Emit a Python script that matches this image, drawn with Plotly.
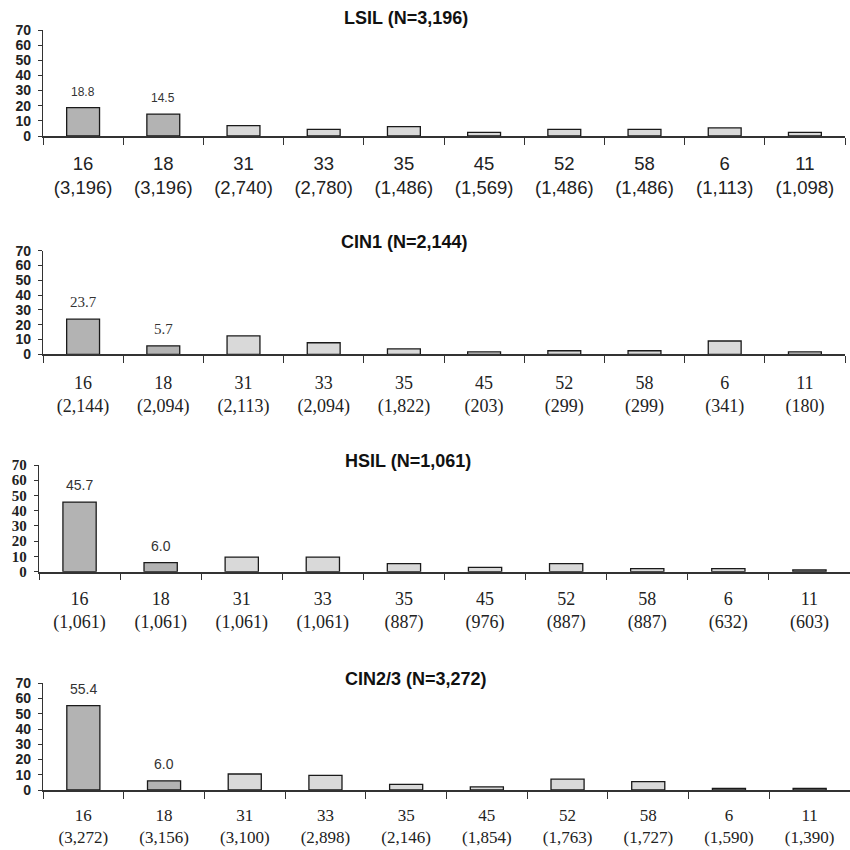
import plotly.graph_objects as go

types = ["16", "18", "31", "33", "35", "45", "52", "58", "6", "11"]

lsil_values = [18.8, 14.5, 6.8, 4.4, 6.2, 2.4, 4.4, 4.4, 5.3, 2.4]
lsil_n = ["3,196", "3,196", "2,740", "2,780", "1,486", "1,569", "1,486", "1,486", "1,113", "1,098"]

cin1_values = [23.7, 5.7, 12.4, 7.8, 3.6, 1.6, 2.4, 2.4, 9.0, 1.6]
cin1_n = ["2,144", "2,094", "2,113", "2,094", "1,822", "203", "299", "299", "341", "180"]

hsil_values = [45.7, 6.0, 9.6, 9.6, 5.3, 2.9, 5.3, 2.0, 2.0, 1.1]
hsil_n = ["1,061", "1,061", "1,061", "1,061", "887", "976", "887", "887", "632", "603"]

cin23_values = [55.4, 6.0, 10.5, 9.6, 3.7, 2.0, 7.2, 5.5, 1.1, 1.1]
cin23_n = ["3,272", "3,156", "3,100", "2,898", "2,146", "1,854", "1,763", "1,727", "1,590", "1,390"]

titles = ["LSIL (N=3,196)", "CIN1 (N=2,144)", "HSIL (N=1,061)", "CIN2/3 (N=3,272)"]
y_ticks = [0, 10, 20, 30, 40, 50, 60, 70]

SANS = "Liberation Sans, Arial, sans-serif"
SERIF = "Liberation Serif, Times New Roman, serif"
H = 850.0

panels = [
    dict(vals=lsil_values, ns=lsil_n, top=30, bot=136, x0=43, x1=845, title_x=406, title_y=18,
         catfont=SANS, catsize=18.5, standoff=10, ytfont=SANS, ytsize=14, valfont=SANS, valsize=12),
    dict(vals=cin1_values, ns=cin1_n, top=250.7, bot=354.3, x0=43, x1=845, title_x=404, title_y=242,
         catfont=SERIF, catsize=18, standoff=11, ytfont=SANS, ytsize=14, valfont=SERIF, valsize=15),
    dict(vals=hsil_values, ns=hsil_n, top=465, bot=571.7, x0=39, x1=850, title_x=408, title_y=461,
         catfont=SERIF, catsize=18, standoff=10, ytfont=SERIF, ytsize=15, valfont=SANS, valsize=14),
    dict(vals=cin23_values, ns=cin23_n, top=683.3, bot=790, x0=43, x1=850, title_x=416, title_y=679,
         catfont=SERIF, catsize=17, standoff=9, ytfont=SANS, ytsize=14, valfont=SANS, valsize=14),
]

DARK = "#b3b3b3"
LIGHT = "#d9d9d9"
EDGE = "#1a1a1a"

fig = go.Figure()
annotations = []
layout = {}

for i, p in enumerate(panels):
    k = "" if i == 0 else str(i + 1)
    cats = [f"{t}<br>({n})" for t, n in zip(types, p["ns"])]
    colors = [DARK if j < 2 else LIGHT for j in range(len(types))]
    fig.add_trace(go.Bar(
        x=cats, y=p["vals"], xaxis="x" + k, yaxis="y" + k,
        marker=dict(color=colors, line=dict(color=EDGE, width=1.3)),
        width=0.41, showlegend=False, hoverinfo="x+y",
    ))
    layout["xaxis" + k] = dict(
        domain=[p["x0"] / H, p["x1"] / H], anchor="y" + k, type="category",
        range=[-0.5, 9.5], showline=True, linecolor="#333", linewidth=1.5,
        ticks="outside", tickson="boundaries", ticklen=7, tickcolor="#333", tickwidth=1.3,
        tickfont=dict(family=p["catfont"], size=p["catsize"], color="#222"),
        ticklabelstandoff=p["standoff"], showgrid=False, zeroline=False, fixedrange=True,
        automargin=False,
    )
    layout["yaxis" + k] = dict(
        domain=[1 - p["bot"] / H, 1 - p["top"] / H], anchor="x" + k,
        range=[0, 70], tickvals=y_ticks, showline=True, linecolor="#333", linewidth=1.3,
        ticks="outside", ticklen=4, tickcolor="#333", ticklabelstandoff=4,
        tickfont=dict(family=p["ytfont"], size=p["ytsize"], color="#222", weight="bold"),
        showgrid=False, zeroline=False, fixedrange=True, automargin=False,
    )
    annotations.append(dict(
        text=f"<b>{titles[i]}</b>", xref="paper", yref="paper",
        x=p["title_x"] / H, y=1 - p["title_y"] / H, xanchor="center", yanchor="middle",
        showarrow=False, font=dict(family=SANS, size=18, color="#111"),
    ))
    for j in range(2):
        v = p["vals"][j]
        annotations.append(dict(
            text=f"{v:.1f}", xref="x" + k, yref="y" + k, x=cats[j], y=v,
            xanchor="center", yanchor="bottom", yshift=7, showarrow=False,
            font=dict(family=p["valfont"], size=p["valsize"], color="#333"),
        ))

fig.update_layout(
    width=850, height=850,
    margin=dict(l=0, r=0, t=0, b=0, autoexpand=False),
    paper_bgcolor="white", plot_bgcolor="white",
    annotations=annotations,
    **layout,
)

fig.write_html("out.html")
